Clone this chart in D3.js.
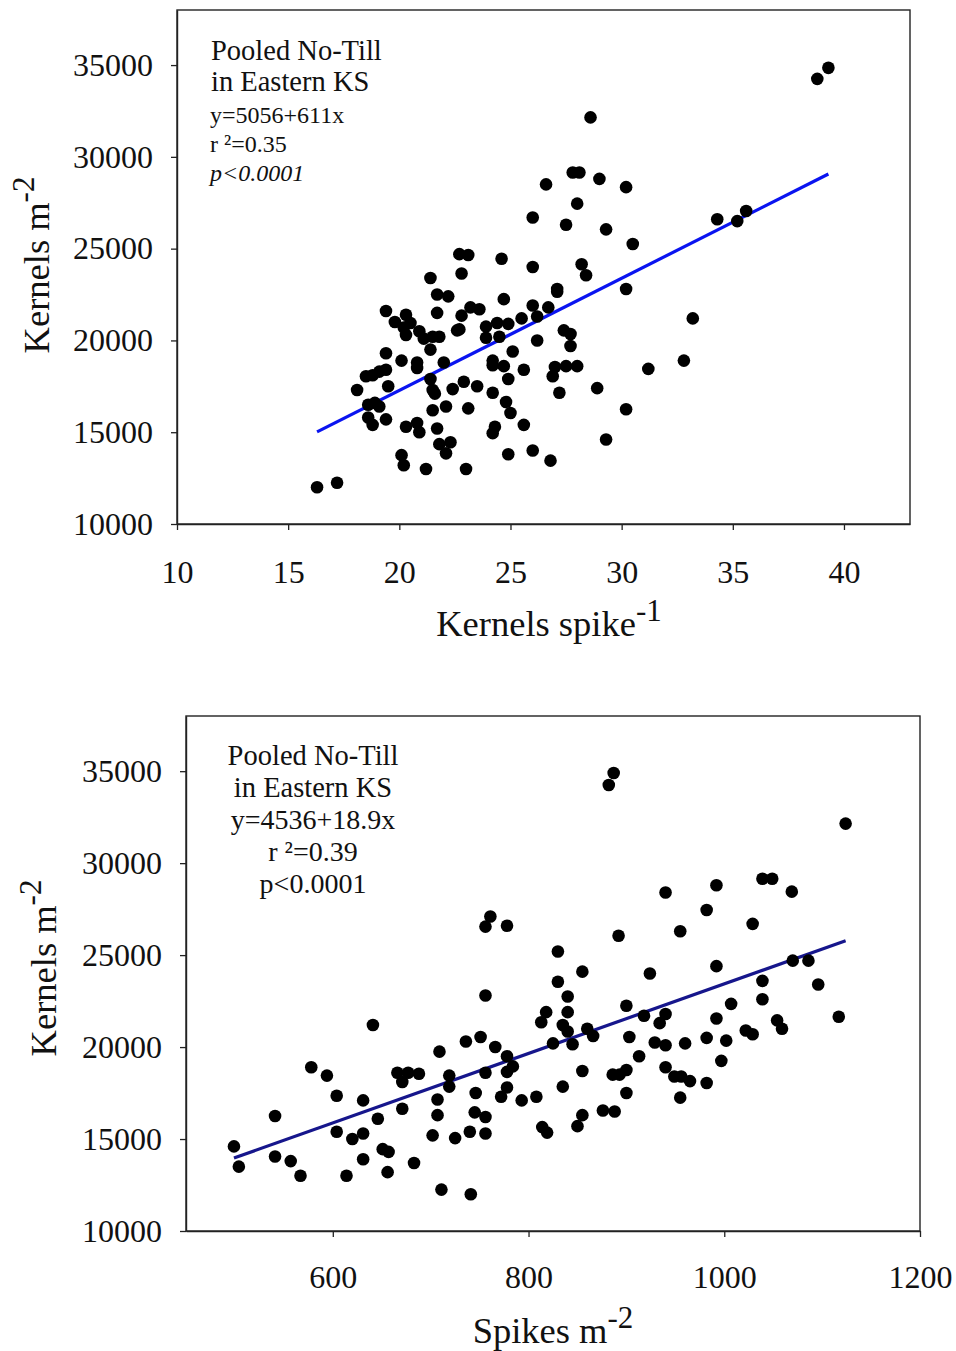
<!DOCTYPE html>
<html>
<head>
<meta charset="utf-8">
<script src="https://cdn.jsdelivr.net/npm/d3@7"></script>
<style>
  body { margin: 0; background: #fff; }
  svg { display: block; font-family: "Liberation Serif", "Times New Roman", serif; }
</style>
</head>
<body>
<div id="chart"></div>
<script>
// kernels per spike vs kernels m-2 (top panel)
var spikeKernels = [
  21.7, 22.2, 19.4, 20.3, 21.7, 19.8, 20.2, 20.5, 20.3, 20.9,
  21.1, 21.5, 21.8, 21.4, 22.6, 19.4, 20.1, 20.8, 20.8, 22.0,
  18.5, 18.8, 19.1, 19.4, 19.5, 18.1, 21.4, 21.5, 21.6, 22.4,
  18.6, 18.9, 19.1, 18.6, 18.8, 19.4, 20.3, 20.8, 20.9, 21.7,
  21.5, 22.1, 21.8, 22.3, 22.1, 20.1, 20.2, 21.2, 16.3, 17.2,
  24.7, 27.1, 23.2, 23.6, 22.8, 26.0, 26.7, 22.7, 23.9, 24.4,
  24.9, 25.5, 26.2, 23.9, 24.5, 27.4, 27.7, 27.7, 26.2, 25.1,
  24.2, 24.2, 24.7, 25.6, 24.9, 27.0, 26.9, 27.5, 28.0, 22.9,
  23.5, 24.2, 24.8, 25.0, 23.1, 27.2, 28.9, 24.3, 24.2, 25.6,
  24.9, 26.0, 26.8, 23.0, 29.3, 28.6, 27.8, 28.1, 29.0, 26.6,
  28.0, 26.0, 27.5, 29.3, 22.7, 23.1, 22.8, 24.6, 26.0, 28.2,
  28.4, 27.1, 21.4, 39.3, 38.8, 30.2, 30.5, 34.3, 35.2, 35.6,
  30.2, 33.2, 32.8, 31.2, 30.2
];
var kernelsTop = [
  22500, 22400, 21600, 21400, 21500, 21000, 20700, 20950, 20300, 20500,
  20100, 20200, 20200, 19500, 20550, 19300, 18900, 18800, 18500, 18800,
  18050, 18100, 18300, 18400, 17500, 17300, 17900, 17300, 17100, 17350,
  16500, 16600, 16400, 15800, 15400, 15700, 15300, 15500, 15000, 15200,
  16200, 16400, 14350, 14450, 13850, 13750, 13200, 13000, 12000, 12250,
  22250, 22650, 21800, 21700, 21350, 21900, 21800, 20600, 20750, 20950,
  20900, 21200, 21300, 20150, 20200, 20550, 20350, 19700, 20000, 19400,
  18900, 18650, 18600, 18400, 17900, 18550, 18050, 18600, 18600, 17750,
  17500, 17150, 16650, 16050, 16300, 17150, 17400, 15300, 14950, 15400,
  13800, 14000, 13450, 13000, 14600, 32150, 29150, 29150, 28800, 28500,
  27450, 26700, 26300, 26050, 24700, 24650, 23650, 24450, 24000, 24150,
  23550, 22800, 23400, 34850, 34250, 28350, 25250, 26600, 26500, 27050,
  22800, 21200, 18900, 18450, 16250
];

// spikes m-2 vs kernels m-2 (bottom panel)
var spikesArea = [
  641, 578, 594, 604, 631, 541, 499, 504, 541, 557,
  567, 604, 620, 631, 646, 651, 657, 631, 614, 656,
  671, 666, 677, 688, 671, 683, 709, 707, 707, 702,
  711, 761, 756, 778, 892, 830, 855, 830, 840, 756,
  900, 818, 813, 840, 835, 840, 860, 866, 825, 845,
  903, 736, 751, 766, 778, 778, 784, 756, 719, 719,
  855, 886, 893, 900, 746, 778, 772, 793, 808, 835,
  900, 745, 756, 725, 740, 756, 814, 819, 850, 855,
  876, 888, 741, 1039, 1049, 992, 940, 1069, 982, 1029,
  955, 924, 992, 1070, 1086, 1039, 1096, 1007, 1039, 918,
  940, 934, 992, 1054, 1059, 1022, 1029, 1117, 929, 940,
  960, 982, 1002, 913, 997, 940, 949, 956, 965, 982,
  955, 887, 882, 1124
];
var kernelsBottom = [
  21200, 18900, 18450, 17350, 17100, 16250, 14600, 13500, 14050, 13800,
  13000, 15400, 15000, 15300, 16100, 14450, 14300, 13900, 13000, 13200,
  16650, 18600, 18600, 18550, 18100, 13700, 19750, 17150, 16300, 15200,
  12250, 27100, 26550, 26600, 26050, 25200, 24100, 23550, 22750, 22800,
  22250, 21900, 21350, 21900, 21200, 20850, 21000, 20600, 20200, 20150,
  20550, 20300, 20550, 20000, 19500, 18650, 18950, 18600, 18450, 17850,
  18700, 18500, 18500, 18750, 17500, 17800, 17300, 17100, 17300, 17850,
  17500, 16450, 16200, 15050, 15400, 15300, 15650, 15350, 15700, 16300,
  16550, 16500, 12000, 29150, 29150, 28800, 28400, 28450, 27450, 26700,
  26300, 24000, 24400, 24700, 24700, 23600, 23400, 22350, 22600, 21700,
  21800, 21300, 21550, 21450, 21000, 20900, 20700, 21650, 20250, 20100,
  20200, 20500, 20350, 19500, 19250, 18900, 18400, 18400, 18150, 18050,
  17250, 34900, 34250, 32150
];

var yTicks = [10000, 15000, 20000, 25000, 30000, 35000];
var xTicksTop = [10, 15, 20, 25, 30, 35, 40];
var xTicksBottom = [600, 800, 1000, 1200];
var notesTop = ["y=5056+611x", "r \u00b2=0.35", "p<0.0001"];
var notesBottom = ["y=4536+18.9x", "r \u00b2=0.39", "p<0.0001"];

var svg = d3.select('#chart').append('svg')
  .attr('width', 956)
  .attr('height', 1351);

function panel(opt) {
  var x = d3.scaleLinear().domain(opt.xDomain).range([opt.left, opt.right]);
  var y = d3.scaleLinear().domain([10000, 38000]).range([opt.bottom, opt.top]);
  var g = svg.append('g');

  // frame
  g.append('rect')
    .attr('x', opt.left).attr('y', opt.top)
    .attr('width', opt.right - opt.left).attr('height', opt.bottom - opt.top)
    .attr('fill', 'none').attr('stroke', '#222').attr('stroke-width', 1.4);

  var xAxis = g.append('g')
    .attr('transform', 'translate(0,' + opt.bottom + ')')
    .call(d3.axisBottom(x).tickValues(opt.xTicks).tickFormat(d3.format('d'))
      .tickSize(6).tickPadding(opt.xPad).tickSizeOuter(0));
  var yAxis = g.append('g')
    .attr('transform', 'translate(' + opt.left + ',0)')
    .call(d3.axisLeft(y).tickValues(yTicks).tickFormat(d3.format('d'))
      .tickSize(6).tickPadding(opt.yPad).tickSizeOuter(0));

  [xAxis, yAxis].forEach(function(a) {
    a.select('.domain').attr('stroke', '#222').attr('stroke-width', 1.4);
    a.selectAll('.tick line').attr('stroke', '#222').attr('stroke-width', 1.3);
    a.selectAll('text')
      .attr('font-family', '"Liberation Serif", serif')
      .attr('font-size', 32)
      .attr('fill', '#111');
  });

  // regression line
  var ext = d3.extent(opt.xs);
  g.append('line')
    .attr('x1', x(ext[0])).attr('y1', y(opt.a + opt.b * ext[0]))
    .attr('x2', x(ext[1])).attr('y2', y(opt.a + opt.b * ext[1]))
    .attr('stroke', opt.lineColor).attr('stroke-width', 3.2);

  g.selectAll('circle.pt')
    .data(opt.xs)
    .enter()
    .append('circle')
    .attr('class', 'pt')
    .attr('cx', function(d) { return x(d); })
    .attr('cy', function(d, i) { return y(opt.ys[i]); })
    .attr('r', 6.3)
    .attr('fill', '#000');

  // axis titles
  var xt = g.append('text')
    .attr('x', opt.xTitleX).attr('y', opt.xTitleY)
    .attr('text-anchor', 'middle')
    .attr('font-size', 36.5).attr('fill', '#111')
    .text(opt.xTitle);
  xt.append('tspan').attr('dy', -15).attr('font-size', 31).text(opt.xSup);

  var yt = g.append('text')
    .attr('transform', 'translate(' + opt.yTitleX + ',' + opt.yTitleY + ') rotate(-90)')
    .attr('text-anchor', 'middle')
    .attr('font-size', 36.5).attr('fill', '#111')
    .text('Kernels m');
  yt.append('tspan').attr('dy', -15).attr('font-size', 31).text('-2');

  return g;
}

var gTop = panel({
  left: 177, right: 910, top: 10, bottom: 524,
  xDomain: [10, 42.97], xTicks: xTicksTop, xPad: 30, yPad: 18,
  xs: spikeKernels, ys: kernelsTop, a: 5056, b: 611, lineColor: '#0a14f0',
  xTitle: 'Kernels spike', xSup: '-1', xTitleX: 549, xTitleY: 636,
  yTitleX: 49, yTitleY: 265
});

var gBot = panel({
  left: 186, right: 920, top: 716, bottom: 1231,
  xDomain: [450, 1200], xTicks: xTicksBottom, xPad: 28, yPad: 18,
  xs: spikesArea, ys: kernelsBottom, a: 4536, b: 18.9, lineColor: '#16168c',
  xTitle: 'Spikes m', xSup: '-2', xTitleX: 553, xTitleY: 1343,
  yTitleX: 56, yTitleY: 968
});

// annotations, top panel (left aligned)
gTop.append('text').attr('x', 211).attr('y', 60).attr('font-size', 28.5).attr('fill', '#111').text('Pooled No-Till');
gTop.append('text').attr('x', 211).attr('y', 91).attr('font-size', 28.5).attr('fill', '#111').text('in Eastern KS');
gTop.selectAll('text.note')
  .data(notesTop)
  .enter()
  .append('text')
  .attr('class', 'note')
  .attr('x', 210)
  .attr('y', function(d, i) { return 123 + i * 29; })
  .attr('font-size', 24)
  .attr('font-style', function(d, i) { return i == 2 ? 'italic' : 'normal'; })
  .attr('fill', '#111')
  .text(function(d) { return d; });

// annotations, bottom panel (centered)
gBot.append('text').attr('x', 313).attr('y', 765).attr('text-anchor', 'middle').attr('font-size', 28.5).attr('fill', '#111').text('Pooled No-Till');
gBot.append('text').attr('x', 313).attr('y', 797).attr('text-anchor', 'middle').attr('font-size', 28.5).attr('fill', '#111').text('in Eastern KS');
gBot.selectAll('text.note')
  .data(notesBottom)
  .enter()
  .append('text')
  .attr('class', 'note')
  .attr('x', 313)
  .attr('y', function(d, i) { return 829 + i * 32; })
  .attr('text-anchor', 'middle')
  .attr('font-size', 28)
  .attr('fill', '#111')
  .text(function(d) { return d; });
</script>
</body>
</html>
